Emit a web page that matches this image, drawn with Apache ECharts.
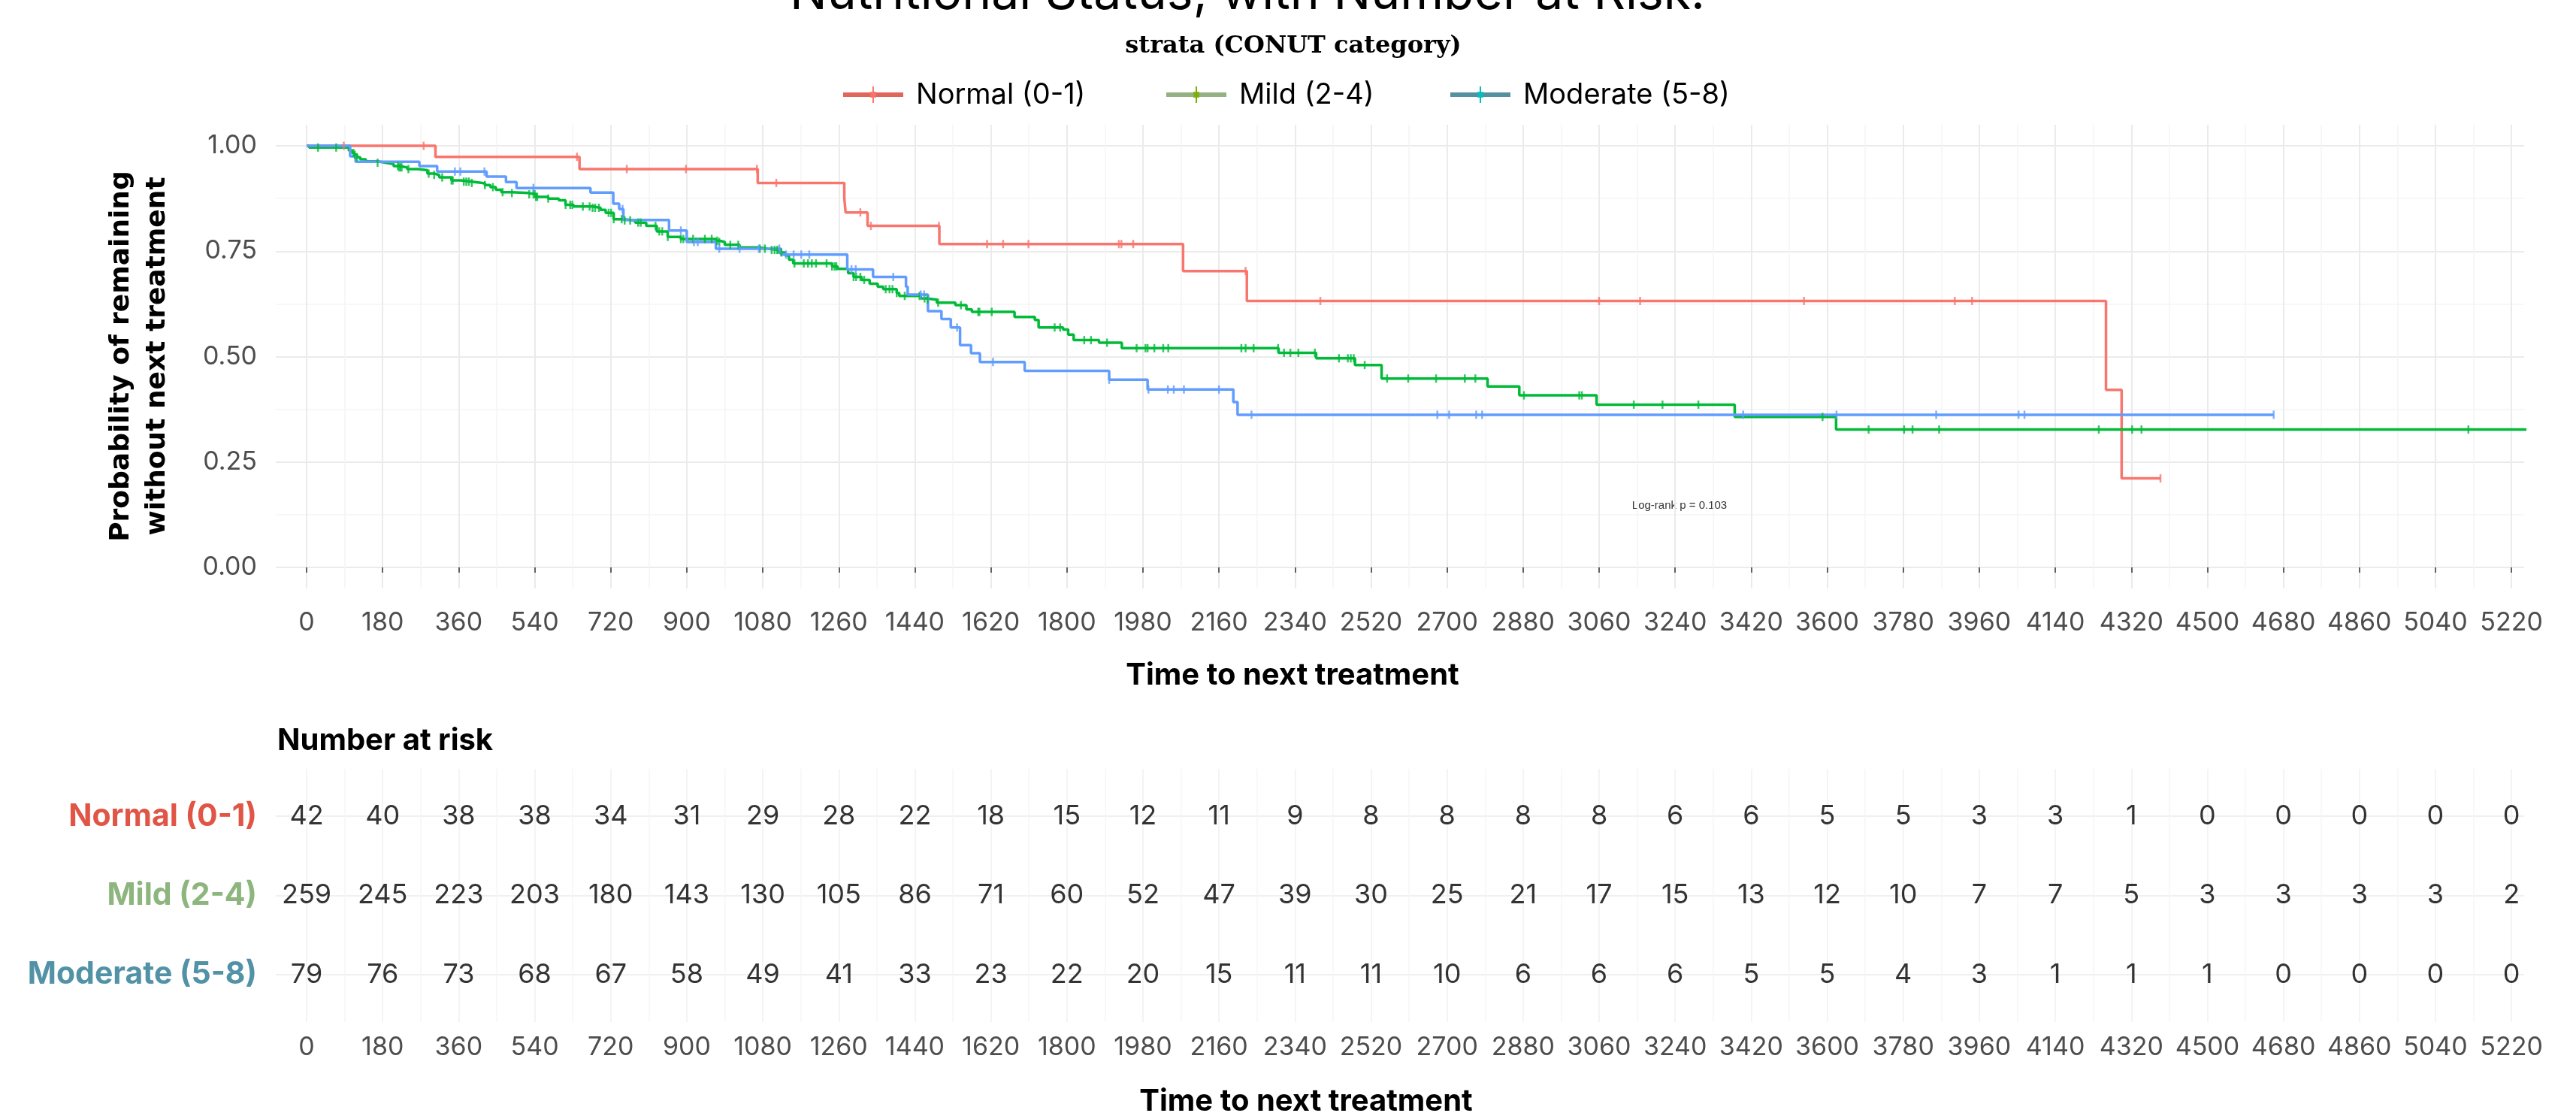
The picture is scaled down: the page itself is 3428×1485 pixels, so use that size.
<!DOCTYPE html>
<html><head><meta charset="utf-8">
<script src="https://cdn.jsdelivr.net/npm/echarts@6/dist/echarts.min.js"></script>
<style>html,body{margin:0;padding:0;background:#fff}#c{width:3428px;height:1485px}</style>
</head><body><div id="c"></div>
<script>
// ---------------- DATA ----------------
const groups = ['Normal (0-1)', 'Mild (2-4)', 'Moderate (5-8)'];
const timeTicks = [0,180,360,540,720,900,1080,1260,1440,1620,1800,1980,2160,2340,2520,2700,2880,3060,3240,3420,3600,3780,3960,4140,4320,4500,4680,4860,5040,5220];
const probTicks = [0, 0.25, 0.5, 0.75, 1];

const normalTime = [0,305,646,1068,1273,1276,1328,1498,2075,2226,4260,4297,4389];
const normalSurv = [1,0.974,0.945,0.912,0.876,0.842,0.810,0.767,0.703,0.632,0.421,0.211,0.211];
const normalCensor = [88,277,640,758,898,1066,1112,1311,1336,1497,1611,1649,1709,1923,1929,1957,2223,2400,3060,3157,3545,3902,3943,4389];

const mildTime = [0,6,100,108,113,119,127,140,168,187,206,219,238,264,286,302,314,343,365,391,416,422,435,448,461,486,524,543,572,597,613,632,677,696,708,727,750,778,804,829,855,886,969,977,990,1025,1071,1092,1117,1133,1142,1152,1244,1257,1282,1295,1314,1333,1352,1365,1397,1403,1454,1466,1492,1536,1562,1575,1676,1724,1733,1791,1803,1816,1876,1930,2301,2390,2482,2545,2796,2871,3054,3381,3621,5300];
const mildSurv = [1,0.996,0.989,0.983,0.979,0.973,0.968,0.963,0.960,0.957,0.952,0.949,0.945,0.942,0.934,0.931,0.925,0.918,0.915,0.912,0.911,0.907,0.902,0.896,0.890,0.888,0.885,0.879,0.875,0.871,0.860,0.856,0.853,0.848,0.841,0.826,0.823,0.818,0.810,0.797,0.784,0.779,0.775,0.772,0.765,0.759,0.756,0.753,0.747,0.740,0.730,0.721,0.714,0.708,0.698,0.689,0.682,0.673,0.666,0.660,0.651,0.644,0.638,0.635,0.628,0.622,0.612,0.606,0.594,0.587,0.569,0.564,0.552,0.539,0.533,0.520,0.509,0.496,0.480,0.448,0.429,0.408,0.386,0.357,0.327,0.327];
const mildCensor = [27,70,111,114,119,168,216,219,222,225,241,289,302,321,343,346,372,378,384,391,422,441,464,486,527,537,540,543,546,572,613,624,629,654,670,677,683,692,715,721,727,746,753,766,785,791,826,835,842,855,886,892,915,943,959,972,977,1003,1022,1073,1085,1101,1108,1114,1124,1155,1177,1187,1196,1206,1231,1244,1250,1254,1295,1301,1311,1320,1371,1380,1387,1397,1416,1451,1463,1470,1495,1549,1590,1593,1622,1771,1784,1841,1857,1895,1965,1986,1991,2007,2028,2040,2213,2223,2242,2300,2314,2329,2348,2387,2444,2465,2472,2479,2505,2558,2608,2674,2742,2767,2882,3013,3019,3142,3210,3295,3589,3698,3782,3802,3865,4243,4322,4344,5118];

const moderateTime = [0,103,116,267,309,426,472,497,672,726,740,750,858,900,969,1123,1280,1341,1419,1423,1471,1503,1525,1547,1573,1594,1700,1900,1991,2194,2204,4657];
const moderateSurv = [1,0.975,0.962,0.952,0.939,0.927,0.914,0.900,0.889,0.863,0.850,0.824,0.799,0.772,0.756,0.742,0.707,0.689,0.666,0.647,0.608,0.589,0.569,0.527,0.508,0.487,0.466,0.445,0.422,0.392,0.362,0.362];
const moderateCensor = [351,364,421,537,748,886,917,926,977,1025,1071,1119,1135,1153,1171,1190,1290,1300,1389,1454,1462,1540,1625,1900,1993,2039,2053,2077,2160,2237,2677,2705,2769,2783,3401,3622,3858,4053,4067,4657];

const riskNormal   = [42,40,38,38,34,31,29,28,22,18,15,12,11,9,8,8,8,8,6,6,5,5,3,3,1,0,0,0,0,0];
const riskMild     = [259,245,223,203,180,143,130,105,86,71,60,52,47,39,30,25,21,17,15,13,12,10,7,7,5,3,3,3,3,2];
const riskModerate = [79,76,73,68,67,58,49,41,33,23,22,20,15,11,11,10,6,6,6,5,5,4,3,1,1,1,0,0,0,0];

const logRankText = 'Log-rank p = 0.103';
const titleText = 'Nutritional Status, with Number at Risk.';
const legendTitle = 'strata (CONUT category)';

// ---------------- STYLE ----------------
const lineColors = ['#F8766D', '#00BA38', '#619CFF'];
const keyColors = ['#E0665C', '#93B183', '#55909F'];
const plusColors = ['#F8766D', '#7CAE00', '#00BFC4'];
const rowColors = ['#E05546', '#8DB57E', '#5292A6'];

const numFont = 'Inter';
const numSize = 34;

const X_MIN = -73, X_MAX = 5250;
const minorTimes = timeTicks.slice(0, -1).map(v => v + 90);
const minorProb = [0.125, 0.375, 0.625, 0.875];

function survAt(times, surv, t) {
  let s = surv[0];
  for (let i = 0; i < times.length; i++) { if (times[i] <= t) s = surv[i]; else break; }
  return s;
}
const curves = [
  [normalTime, normalSurv, normalCensor],
  [mildTime, mildSurv, mildCensor],
  [moderateTime, moderateSurv, moderateCensor]
];
const risks = [riskNormal, riskMild, riskModerate];
const rowPos = [3, 2, 1];

const series = [];
curves.forEach((c, i) => {
  series.push({
    name: groups[i], type: 'line', step: 'end', xAxisIndex: 0, yAxisIndex: 0,
    data: c[0].map((t, j) => [t, c[1][j]]), showSymbol: false, clip: true,
    lineStyle: { color: lineColors[i], width: 3.5 }, z: 3 + i
  });
});
curves.forEach((c, i) => {
  series.push({
    type: 'scatter', xAxisIndex: 0, yAxisIndex: 0, symbol: 'rect', symbolSize: [2.5, 11],
    data: c[2].map(t => [t, survAt(c[0], c[1], t)]),
    itemStyle: { color: lineColors[i] }, z: 6 + i
  });
});
risks.forEach((r, i) => {
  series.push({
    type: 'scatter', xAxisIndex: 2, yAxisIndex: 2, symbolSize: 1,
    itemStyle: { color: 'transparent' },
    data: r.map((n, j) => [timeTicks[j], rowPos[i], n]),
    label: { show: true, position: 'inside', formatter: p => String(p.value[2]),
      fontFamily: numFont, fontSize: 36, color: '#000' }
  });
});

const majorGrid = { show: true, lineStyle: { color: '#EBEBEB', width: 2 } };
const minorGrid = { show: true, lineStyle: { color: '#F4F4F4', width: 1.5 } };
const plain = v => String(v);

const option = {
  animation: false,
  backgroundColor: '#fff',
  grid: [
    { left: 367, right: 69, top: 166, height: 617 },
    { left: 367, right: 69, top: 1023, height: 337 }
  ],
  xAxis: [
    { gridIndex: 0, type: 'value', min: X_MIN, max: X_MAX, position: 'bottom',
      axisLine: { show: false },
      axisTick: { show: true, customValues: timeTicks, length: 7, lineStyle: { color: '#333', width: 1.5 } },
      axisLabel: { customValues: timeTicks, formatter: plain, margin: 29, fontFamily: numFont, fontSize: numSize, color: '#4D4D4D' },
      splitLine: majorGrid, z: 1 },
    { gridIndex: 0, type: 'value', min: X_MIN, max: X_MAX, position: 'bottom',
      axisLine: { show: false }, axisTick: { show: false, customValues: minorTimes },
      axisLabel: { show: false, customValues: minorTimes }, splitLine: minorGrid, z: 0 },
    { gridIndex: 1, type: 'value', min: X_MIN, max: X_MAX, position: 'bottom',
      axisLine: { show: false }, axisTick: { show: false, customValues: timeTicks },
      axisLabel: { customValues: timeTicks, formatter: plain, margin: 17, fontFamily: numFont, fontSize: numSize, color: '#4D4D4D' },
      splitLine: { show: true, lineStyle: { color: '#F0F0F0', width: 1.5 } } },
    { gridIndex: 1, type: 'value', min: X_MIN, max: X_MAX, position: 'bottom',
      axisLine: { show: false }, axisTick: { show: false, customValues: minorTimes },
      axisLabel: { show: false, customValues: minorTimes },
      splitLine: { show: true, lineStyle: { color: '#F6F6F6', width: 1.5 } } }
  ],
  yAxis: [
    { gridIndex: 0, type: 'value', min: -0.05, max: 1.05, position: 'left',
      axisLine: { show: false }, axisTick: { show: false, customValues: probTicks },
      axisLabel: { customValues: probTicks, formatter: v => v.toFixed(2), margin: 25,
        fontFamily: numFont, fontSize: numSize, color: '#4D4D4D' },
      splitLine: majorGrid },
    { gridIndex: 0, type: 'value', min: -0.05, max: 1.05, position: 'left',
      axisLine: { show: false }, axisTick: { show: false, customValues: minorProb },
      axisLabel: { show: false, customValues: minorProb }, splitLine: minorGrid },
    { gridIndex: 1, type: 'value', min: 0.4, max: 3.6, position: 'left',
      axisLine: { show: false }, axisTick: { show: false, customValues: [1, 2, 3] },
      axisLabel: { customValues: [1, 2, 3], margin: 25,
        formatter: v => ({ 3: '{a|' + groups[0] + '}', 2: '{b|' + groups[1] + '}', 1: '{c|' + groups[2] + '}' })[v] || '',
        rich: {
          a: { color: rowColors[0], fontWeight: 'bold', fontSize: 41, fontFamily: 'Inter' },
          b: { color: rowColors[1], fontWeight: 'bold', fontSize: 41, fontFamily: 'Inter' },
          c: { color: rowColors[2], fontWeight: 'bold', fontSize: 41, fontFamily: 'Inter' }
        } },
      splitLine: { show: true, lineStyle: { color: '#F0F0F0', width: 2 } } }
  ],
  series: series,
  graphic: (function () {
    const g = [];
    g.push({ type: 'text', x: 1660, y: -8, style: { text: titleText, align: 'center', verticalAlign: 'middle',
      font: '400 66px Inter', fill: '#000' } });
    g.push({ type: 'text', x: 1721, y: 62, style: { text: legendTitle, align: 'center', verticalAlign: 'middle',
      font: 'bold 32px "DejaVu Serif"', fill: '#000' } });
    const keyX = [1122, 1552, 1930];
    keyX.forEach((kx, i) => {
      g.push({ type: 'rect', shape: { x: kx, y: 123, width: 80, height: 6 }, style: { fill: keyColors[i] } });
      g.push({ type: 'rect', shape: { x: kx + 36, y: 122, width: 8, height: 8 }, style: { fill: plusColors[i], opacity: 0.8 } });
      g.push({ type: 'line', shape: { x1: kx + 40, y1: 115, x2: kx + 40, y2: 137 }, style: { stroke: plusColors[i], lineWidth: 2 } });
      g.push({ type: 'text', x: kx + 97, y: 127, style: { text: groups[i], align: 'left', verticalAlign: 'middle',
        font: '38px Inter', fill: '#000' } });
    });
    g.push({ type: 'text', x: 186, y: 474, rotation: Math.PI / 2, style: {
      text: 'Probability of remaining\nwithout next treatment', align: 'center', verticalAlign: 'middle',
      font: 'bold 36px "DejaVu Sans"', lineHeight: 48, fill: '#000' } });
    g.push({ type: 'text', x: 1720, y: 899, style: { text: 'Time to next treatment', align: 'center', verticalAlign: 'middle',
      font: 'bold 40px Inter', fill: '#000' } });
    g.push({ type: 'text', x: 369, y: 986, style: { text: 'Number at risk', align: 'left', verticalAlign: 'middle',
      font: 'bold 40px Inter', fill: '#000' } });
    g.push({ type: 'text', x: 1738, y: 1466, style: { text: 'Time to next treatment', align: 'center', verticalAlign: 'middle',
      font: 'bold 40px Inter', fill: '#000' } });
    g.push({ type: 'text', x: 2235, y: 673, style: { text: logRankText, align: 'center', verticalAlign: 'middle',
      font: '15px "Liberation Sans"', fill: '#333' } });
    return g;
  })()
};

const chart = echarts.init(document.getElementById('c'), null, { renderer: 'canvas' });
chart.setOption(option);
</script></body></html>
